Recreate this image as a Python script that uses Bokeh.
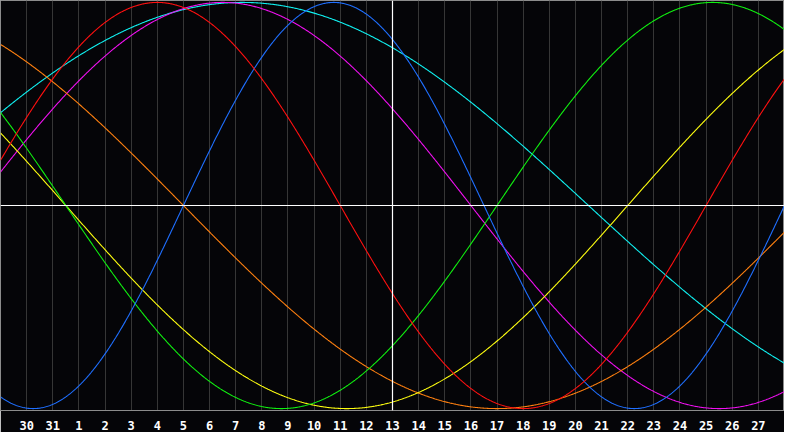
import numpy as np
from bokeh.plotting import figure
from bokeh.models import Range1d, FixedTicker, Span
from bokeh.embed import file_html
from bokeh.resources import INLINE

# ---- data ----
# day-of-month labels for grid positions 1..29 (position 0 is the 29th)
day_labels = ["30", "31"] + [str(d) for d in range(1, 28)]
today_index = 15              # the white vertical line (day 13)
days_alive_at_start = 14897   # days since birth at the left edge
cycle_names = ["Physical", "Emotional", "Intellectual", "Intuitive",
               "Aesthetic", "Awareness", "Spiritual"]
cycle_periods = [23, 28, 33, 38, 43, 48, 53]
cycle_colors = ["#1f6fff", "#ff1010", "#10f010", "#f010f0",
                "#ffff10", "#ff8010", "#10f0f0"]
draw_order = [6, 3, 5, 4, 2, 0, 1]

BG = "#050508"
n_days = 30

p = figure(width=784, height=432, output_backend="svg", toolbar_location=None,
           x_range=Range1d(0, n_days), y_range=Range1d(-1.0094, 1.0094),
           background_fill_color=BG, border_fill_color=BG,
           min_border_left=0, min_border_right=0, min_border_top=0, min_border_bottom=0)
p.outline_line_color = "#8c8c8c"
p.outline_line_width = 1

ticks = list(range(1, n_days))
p.xaxis.ticker = FixedTicker(ticks=ticks)
p.xaxis.major_label_overrides = {t: lab for t, lab in zip(ticks, day_labels)}
p.xaxis.major_label_text_color = "white"
p.xaxis.major_label_text_font = "DejaVu Sans Mono"
p.xaxis.major_label_text_font_style = "bold"
p.xaxis.major_label_text_font_size = "12px"
p.xaxis.major_label_standoff = 4
p.xaxis.axis_line_color = "#8c8c8c"
p.xaxis.major_tick_line_color = None
p.xaxis.minor_tick_line_color = None
p.yaxis.visible = False

p.xgrid.ticker = FixedTicker(ticks=[t for t in ticks if t != today_index])
p.xgrid.grid_line_color = "#363636"
p.xgrid.grid_line_width = 1
p.ygrid.grid_line_color = None

p.add_layout(Span(location=0, dimension="width", line_color="white", line_width=1.2))
p.add_layout(Span(location=today_index, dimension="height", line_color="white", line_width=1.2))

x = np.linspace(0, n_days, 901)
for i in draw_order:
    y = np.sin(2 * np.pi * (days_alive_at_start + x) / cycle_periods[i])
    p.line(x, y, line_color=cycle_colors[i], line_width=1.1)

open("out.html", "w").write(file_html(p, INLINE))
